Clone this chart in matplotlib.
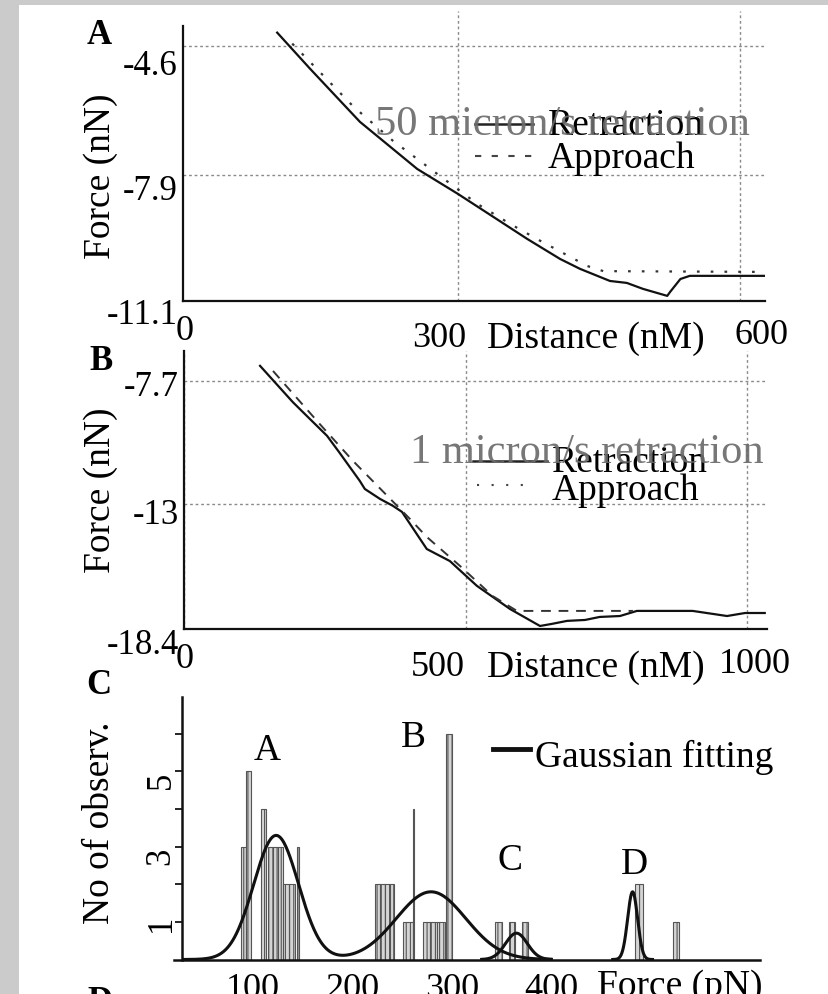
import matplotlib

matplotlib.use("Agg")

import matplotlib.pyplot as plt
import matplotlib.transforms as mtransforms
import numpy as np
from matplotlib.lines import Line2D
from matplotlib.patches import Rectangle

plt.rcParams["font.family"] = ["Liberation Serif", "DejaVu Serif"]
plt.rcParams["hatch.linewidth"] = 0.8

W, H = 829, 995

# panel A: 50 micron/s, distance (nM) vs force (nN)
a_retract_dist = [108, 143, 196, 257, 300, 338, 374, 409, 430, 462, 480,
                  497, 523, 526, 537, 547, 627]
a_retract_force = [-4.27, -5.19, -6.54, -7.74, -8.37, -8.96, -9.52, -10.03,
                   -10.28, -10.59, -10.64, -10.79, -10.97, -10.87, -10.54, -10.46, -10.46]
a_approach_dist = [124, 189, 231, 321, 356, 388, 420, 438, 455, 627]
a_approach_force = [-4.55, -6.15, -7.02, -8.63, -9.14, -9.57, -9.98, -10.21, -10.34, -10.36]
a_yticks = [-11.1, -7.9, -4.6]
a_xticks = [300, 600]

# panel B: 1 micron/s
b_retract_dist = [135, 193, 218, 254, 275, 312, 321, 348, 371, 387, 431, 472, 520, 579,
                  632, 653, 680, 712, 738, 774, 804, 903, 939, 964, 996, 1031]
b_retract_force = [-7.05, -8.61, -9.21, -10.07, -10.76, -12.01, -12.36, -12.79, -13.09,
                   -13.35, -14.95, -15.47, -16.54, -17.54, -18.27, -18.18, -18.05, -18.01,
                   -17.88, -17.84, -17.62, -17.62, -17.75, -17.84, -17.71, -17.71]
b_approach_dist = [158, 241, 300, 401, 431, 490, 548, 591, 797]
b_approach_force = [-7.27, -9.56, -11.15, -13.65, -14.43, -15.68, -16.98, -17.62, -17.62]
b_yticks = [-18.4, -13, -7.7]
b_xticks = [0, 500, 1000]

# panel C: rupture force histogram (pN) and gaussian fits
c_bar_left = [88, 93, 108, 115, 120, 125, 130, 136, 144.5, 223, 228, 233, 238, 251, 260.5,
              271, 278, 285, 294, 343, 358, 371, 484, 523]
c_bar_width = [5, 5, 5, 5, 5, 5, 6, 6, 2, 5, 5, 5, 4, 10, 1.5, 7, 7, 8, 6, 7, 6, 6, 8, 6]
c_bar_count = [3, 5, 4, 3, 3, 3, 2, 2, 3, 2, 2, 2, 2, 1, 4, 1, 1, 1, 6, 1, 1, 1, 2, 1]
c_peak_names = ["A", "B", "C", "D"]
c_peak_center = [123, 279, 365, 482]
c_peak_height = [3.3, 1.8, 0.7, 1.8]
c_peak_sigma = [22.6, 35, 11, 5]
c_peak_label_xy = [(114, 5.57), (261, 5.92), (359, 2.66), (484, 2.55)]
c_yticks = [1, 3, 5]
c_yminor = [2, 4, 6]
c_xticks = [100, 200, 300, 400]

fig = plt.figure(figsize=(W / 100, H / 100), dpi=100)
fig.patch.set_facecolor("#cbcbcb")
fig.patches.append(Rectangle((19 / W, 0), 1 - 19 / W, 1 - 6 / H, transform=fig.transFigure,
                             facecolor="white", edgecolor="none", zorder=-10))


def px_rect(left, top, right, bottom):
    return [left / W, 1 - bottom / H, (right - left) / W, (bottom - top) / H]


def fx(x):
    return x / W


def fy(y):
    return 1 - y / H


def nudge(label, dx, dy):
    label.set_transform(label.get_transform()
                        + mtransforms.ScaledTranslation(dx / 100, -dy / 100, fig.dpi_scale_trans))


def style_curve_axes(ax, yticks, xticks, y_dy, x_dx, x_dy):
    for side in ("top", "right"):
        ax.spines[side].set_visible(False)
    for side in ("left", "bottom"):
        ax.spines[side].set_linewidth(1.6)
        ax.spines[side].set_color("#111111")
    ax.set_yticks(yticks)
    ax.set_yticklabels([f"{v:g}" for v in yticks])
    ax.set_xticks(xticks)
    ax.set_xticklabels([f"{v:g}" for v in xticks])
    ax.grid(True, color="#8a8a8a", linestyle=(0, (2, 2)), linewidth=1.0)
    ax.tick_params(axis="y", length=0, pad=3.6, labelsize=25)
    ax.tick_params(axis="x", length=0, pad=25, labelsize=26)
    ax.set_facecolor("none")
    for lab, dy in zip(ax.get_yticklabels(), y_dy):
        nudge(lab, 0, dy)
    for lab, dx, dy in zip(ax.get_xticklabels(), x_dx, x_dy):
        lab.set_va("center")
        nudge(lab, dx, dy)


# ---- panel A
axA = fig.add_axes(px_rect(183, 12, 765, 302))
axA.plot(a_retract_dist, a_retract_force, color="#111111", lw=1.6, zorder=3)
axA.plot(a_approach_dist, a_approach_force, color="#333333", lw=1.6,
         linestyle=(0, (1.2, 5)), zorder=3)
axA.set_xlim(7.8, 627)
axA.set_ylim(-11.1, -3.72)
axA.spines["left"].set_bounds(-11.1, -4.09)
style_curve_axes(axA, a_yticks, a_xticks, [10, 11, 16], [-18, 22], [2, -1])
fig.text(fx(185), fy(332), "0", ha="center", va="center", fontsize=26)
fig.text(fx(596), fy(339), "Distance (nM)", ha="center", va="center", fontsize=27)

fig.add_artist(Line2D([fx(475), fx(533)], [fy(125)] * 2, color="#222222", lw=1.8))
fig.add_artist(Line2D([fx(475), fx(533)], [fy(157)] * 2, color="#444444", lw=1.5,
                      linestyle=(0, (3, 5))))
fig.text(fx(548), fy(135), "Retraction", va="baseline", fontsize=27)
fig.text(fx(548), fy(168), "Approach", va="baseline", fontsize=27)
fig.text(fx(375), fy(135), "50 micron/s retraction", va="baseline", fontsize=30.6,
         color="#6b6b6b", alpha=0.92)

# ---- panel B
axB = fig.add_axes(px_rect(184, 352, 767, 630))
axB.plot(b_retract_dist, b_retract_force, color="#111111", lw=1.6, zorder=3)
axB.plot(b_approach_dist, b_approach_force, color="#333333", lw=1.4,
         linestyle=(0, (5, 4)), zorder=3)
axB.set_xlim(0, 1035)
axB.set_ylim(-18.4, -6.41)
style_curve_axes(axB, b_yticks, b_xticks, [12, 7, 2], [1, -28, 8], [-5, 3, 0])
fig.text(fx(596), fy(668), "Distance (nM)", ha="center", va="center", fontsize=27)

fig.add_artist(Line2D([fx(473), fx(547)], [fy(462)] * 2, color="#222222", lw=1.8))
fig.add_artist(Line2D([fx(477), fx(535)], [fy(486)] * 2, color="#444444", lw=1.5,
                      linestyle=(0, (1, 6))))
fig.text(fx(552), fy(472), "Retraction", va="baseline", fontsize=27)
fig.text(fx(552), fy(500), "Approach", va="baseline", fontsize=27)
fig.text(fx(410), fy(463), "1 micron/s retraction", va="baseline", fontsize=30.6,
         color="#6b6b6b", alpha=0.92)

# ---- panel C
axC = fig.add_axes(px_rect(182, 698, 760, 960.5))
axC.bar(c_bar_left, c_bar_count, width=c_bar_width, align="edge", facecolor="#d4d4d4",
        edgecolor="#555555", linewidth=0.8, hatch="||||", zorder=2)

gauss = lambda x, i: c_peak_height[i] * np.exp(-(x - c_peak_center[i]) ** 2
                                               / (2 * c_peak_sigma[i] ** 2))
xs = np.linspace(30, 400, 600)
axC.plot(xs, gauss(xs, 0) + gauss(xs, 1), color="#111111", lw=2.2, zorder=4)
xs = np.linspace(330, 400, 200)
axC.plot(xs, gauss(xs, 2), color="#111111", lw=2.2, zorder=4)
xs = np.linspace(462, 502, 200)
axC.plot(xs, gauss(xs, 3), color="#111111", lw=2.2, zorder=4)

for name, (lx, ly) in zip(c_peak_names, c_peak_label_xy):
    axC.text(lx, ly, name, ha="center", va="center", fontsize=27)

axC.set_xlim(28.2, 610.3)
axC.set_ylim(0, 6.98)
for side in ("top", "right"):
    axC.spines[side].set_visible(False)
for side in ("left", "bottom"):
    axC.spines[side].set_linewidth(1.8)
    axC.spines[side].set_color("#111111")
axC.spines["bottom"].set_bounds(20, 610.3)
axC.set_facecolor("none")
axC.set_yticks(c_yticks)
axC.set_yticks(c_yminor, minor=True)
axC.set_yticklabels([str(v) for v in c_yticks], rotation=90)
axC.set_xticks(c_xticks)
axC.set_xticklabels([str(v) for v in c_xticks])
axC.tick_params(axis="y", which="both", length=5, width=1.2, direction="out",
                pad=1, labelsize=25)
axC.tick_params(axis="x", length=0, pad=21, labelsize=26)
for lab, dy in zip(axC.get_yticklabels(), [0, 9, 8]):
    lab.set_va("center")
    nudge(lab, 4, dy)
for lab in axC.get_xticklabels():
    lab.set_va("center")
fig.text(fx(680), fy(987), "Force (pN)", ha="center", va="center", fontsize=27)

fig.add_artist(Line2D([fx(493), fx(530)], [fy(750)] * 2, color="#111111", lw=3.5))
fig.text(fx(535), fy(767), "Gaussian fitting", va="baseline", fontsize=27)

# panel letters and axis titles
for letter, (x, y) in zip("ABCD", [(99, 36), (101, 362), (99, 686), (100, 1003)]):
    fig.text(fx(x), fy(y), letter, ha="center", va="center", fontsize=25, fontweight="bold")
fig.text(fx(101), fy(176), "Force (nN)", rotation=90, ha="center", va="center", fontsize=27)
fig.text(fx(101), fy(490), "Force (nN)", rotation=90, ha="center", va="center", fontsize=27)
fig.text(fx(100), fy(823), "No of observ.", rotation=90, ha="center", va="center", fontsize=27)

fig.savefig("out.png", dpi=100)
